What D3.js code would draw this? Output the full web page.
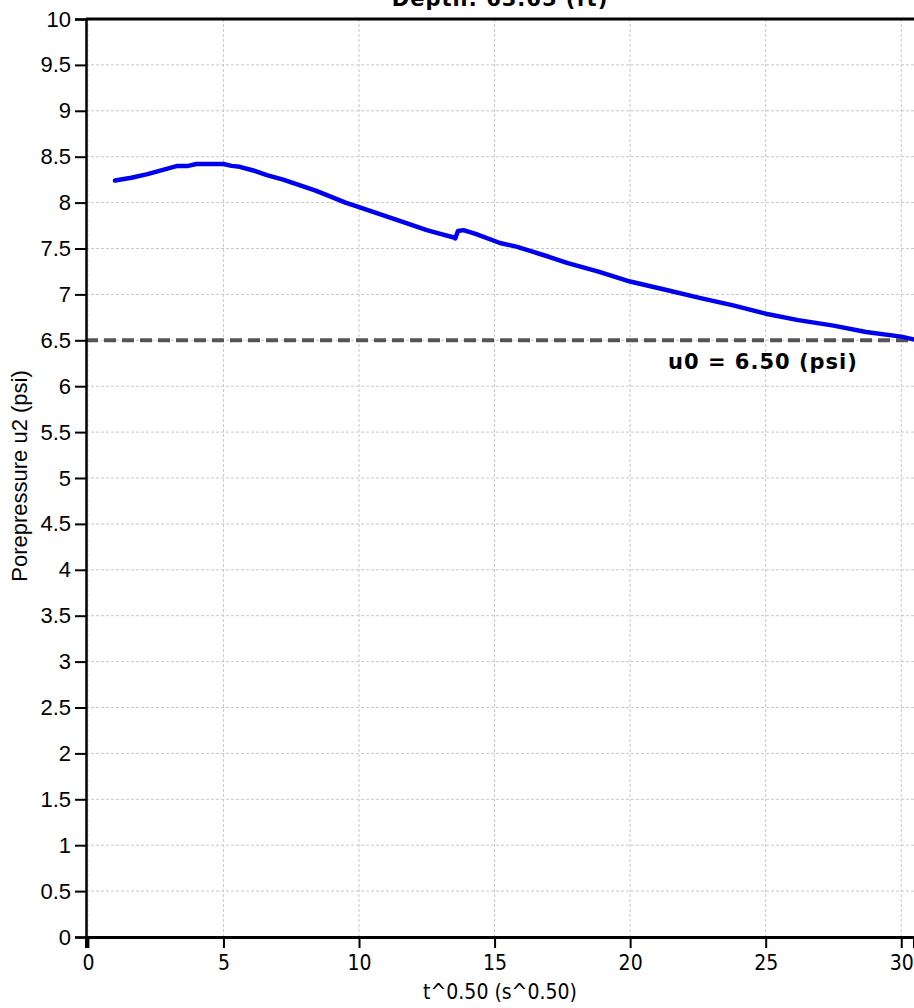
<!DOCTYPE html>
<html>
<head>
<meta charset="utf-8">
<script src="https://cdn.jsdelivr.net/npm/d3@7"></script>
<style>
  html, body { margin: 0; padding: 0; background: #fff; }
  svg { display: block; }
</style>
</head>
<body>
<svg id="chart" width="914" height="1008"></svg>
<script>
// Dissipation test record: pore pressure u2 against square-root time
const titleText = "Depth: 63.65 (ft)";
const xTitle = "t^0.50 (s^0.50)";
const yTitle = "Porepressure u2 (psi)";

const sqrtTime = [1.0, 1.6, 2.2, 2.8, 3.3, 3.7, 4.0, 4.5, 5.0, 5.3, 5.6, 6.1, 6.6, 7.2, 7.8, 8.4, 9.0, 9.5, 10.0, 10.6, 11.2, 11.8, 12.5, 13.0, 13.5, 13.55, 13.65, 13.85, 14.3, 15.2, 15.8, 16.4, 17.0, 17.7, 18.8, 20.0, 21.3, 22.6, 23.8, 25.0, 26.2, 27.5, 28.7, 30.0, 30.45];
const porePressure = [8.24, 8.27, 8.31, 8.36, 8.40, 8.40, 8.42, 8.42, 8.42, 8.40, 8.39, 8.35, 8.30, 8.25, 8.19, 8.13, 8.06, 8.00, 7.95, 7.89, 7.83, 7.77, 7.70, 7.66, 7.62, 7.61, 7.69, 7.70, 7.66, 7.56, 7.52, 7.465, 7.41, 7.34, 7.25, 7.14, 7.05, 6.96, 6.88, 6.79, 6.72, 6.66, 6.59, 6.54, 6.51];

const u0 = 6.50;
const u0Label = "u0 = 6.50 (psi)";

const xTicks = [0, 5, 10, 15, 20, 25, 30];
const yTicks = [0, 0.5, 1, 1.5, 2, 2.5, 3, 3.5, 4, 4.5, 5, 5.5, 6, 6.5, 7, 7.5, 8, 8.5, 9, 9.5, 10];

const svg = d3.select("#chart");
const plot = { left: 86, right: 914, top: 19, bottom: 937 };

const x = d3.scaleLinear().domain([-0.07, 30.47]).range([plot.left, plot.right]);
const y = d3.scaleLinear().domain([0, 10]).range([plot.bottom, plot.top]);

// grid
const grid = svg.append("g").attr("class", "grid");
grid.selectAll("line.gx").data(xTicks).join("line")
  .attr("x1", d => x(d)).attr("x2", d => x(d))
  .attr("y1", plot.top).attr("y2", plot.bottom)
  .attr("stroke", "#c8c8c8").attr("stroke-width", 1).attr("stroke-dasharray", "3,2");
grid.selectAll("line.gy").data(yTicks).join("line")
  .attr("x1", plot.left).attr("x2", plot.right)
  .attr("y1", d => y(d)).attr("y2", d => y(d))
  .attr("stroke", "#c8c8c8").attr("stroke-width", 1).attr("stroke-dasharray", "3,2");

// baseline pore pressure
svg.append("line")
  .attr("x1", plot.left).attr("x2", plot.right)
  .attr("y1", y(u0)).attr("y2", y(u0))
  .attr("stroke", "#555").attr("stroke-width", 4).attr("stroke-dasharray", "12,6");

// measured curve
const pts = sqrtTime.map((t, i) => [t, porePressure[i]]);
const line = d3.line().x(d => x(d[0])).y(d => y(d[1]));
svg.append("path")
  .datum(pts)
  .attr("d", line)
  .attr("fill", "none")
  .attr("stroke", "#0000ee")
  .attr("stroke-width", 4.5)
  .attr("stroke-linejoin", "round")
  .attr("stroke-linecap", "round");

// axes
const fmtY = d => Number.isInteger(d) ? String(d) : d.toFixed(1);
const yAxis = svg.append("g")
  .attr("transform", `translate(${plot.left},0)`)
  .call(d3.axisLeft(y).tickValues(yTicks).tickFormat(fmtY).tickSize(11).tickPadding(4));
yAxis.select(".domain").attr("stroke", "#000").attr("stroke-width", 2.5);
yAxis.selectAll(".tick line").attr("stroke", "#000").attr("stroke-width", 2);
yAxis.selectAll(".tick text")
  .attr("font-family", "'Liberation Sans', Arial, sans-serif")
  .attr("font-size", 22).attr("fill", "#000");

const xAxis = svg.append("g")
  .attr("transform", `translate(0,${plot.bottom})`)
  .call(d3.axisBottom(x).tickValues(xTicks).tickFormat(d3.format("d")).tickSize(11).tickPadding(7));
xAxis.select(".domain").attr("stroke", "#000").attr("stroke-width", 3);
xAxis.selectAll(".tick line").attr("stroke", "#000").attr("stroke-width", 2);
xAxis.selectAll(".tick text")
  .attr("font-family", "'DejaVu Sans Condensed', 'DejaVu Sans', sans-serif")
  .attr("font-size", 21).attr("fill", "#000");

// top frame
svg.append("line")
  .attr("x1", plot.left).attr("x2", plot.right)
  .attr("y1", plot.top).attr("y2", plot.top)
  .attr("stroke", "#000").attr("stroke-width", 3);

// titles
svg.append("text")
  .attr("x", 500).attr("y", 6)
  .attr("text-anchor", "middle")
  .attr("font-family", "'DejaVu Sans', Verdana, sans-serif")
  .attr("font-weight", "bold").attr("font-size", 21).attr("letter-spacing", 1)
  .text(titleText);

svg.append("text")
  .attr("x", 500).attr("y", 999)
  .attr("text-anchor", "middle")
  .attr("font-family", "'DejaVu Sans Condensed', 'DejaVu Sans', sans-serif")
  .attr("font-size", 21)
  .text(xTitle);

svg.append("text")
  .attr("transform", `translate(27,476) rotate(-90)`)
  .attr("text-anchor", "middle")
  .attr("font-family", "'Liberation Sans', Arial, sans-serif")
  .attr("font-size", 22)
  .text(yTitle);

svg.append("text")
  .attr("x", 763).attr("y", 369)
  .attr("text-anchor", "middle")
  .attr("font-family", "'DejaVu Sans', Verdana, sans-serif")
  .attr("font-weight", "bold").attr("font-size", 21).attr("letter-spacing", 1)
  .text(u0Label);
</script>
</body>
</html>
